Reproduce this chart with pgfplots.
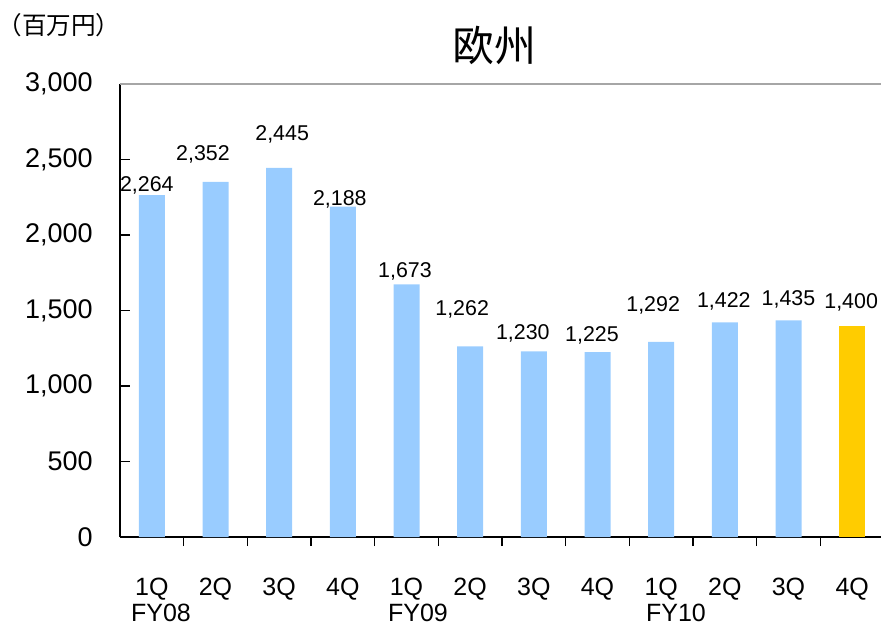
\documentclass[border=0pt]{standalone}
\usepackage{pgfplots}
\pgfplotsset{compat=1.18}
\usepackage{pgfplotstable}
\usepackage{fontspec}
\setmainfont{Liberation Sans}
\newfontfamily\cjk{Noto Sans CJK JP}
\definecolor{barblue}{HTML}{99CCFF}
\definecolor{bargold}{HTML}{FFCC00}
\pgfplotstableread{
x y dx dy
0 2264 -2.5 5
1 2352 -6.25 13.5
2 2445 1.5 16.5
3 2188 -1.5 3.5
4 1673 -0.75 6.5
5 1262 -4 18.5
6 1230 -5.5 9
7 1225 -2.75 8.5
8 1292 -4 18.5
9 1422 -0.5 10.5
10 1435 0 10.5
}\bluedata
\pgfplotstableread{
x y dx dy
11 1400 -0.5 11.5
}\golddata
\begin{document}
\begin{tikzpicture}
\path[use as bounding box] (-60pt,-44pt) rectangle (380.5pt,268.5pt);
\begin{axis}[
  at={(0,0)}, anchor=south west,
  scale only axis,
  width=382pt, height=226.5pt,
  xmin=-0.5, xmax=11.5,
  ymin=0, ymax=3000,
  axis x line*=bottom, axis y line*=left,
  axis line style={black, line width=0.8pt},
  tick align=inside,
  major tick length=5pt, minor tick length=4.5pt,
  tick style={black, line width=0.7pt},
  xtick={0,...,11},
  xticklabels={1Q,2Q,3Q,4Q,1Q,2Q,3Q,4Q,1Q,2Q,3Q,4Q},
  minor xtick={0.5,1.5,...,10.5},
  every major x tick/.append style={draw=none},
  ytick={0,500,...,3000},
  /pgf/number format/assume math mode=true,
  /pgf/number format/1000 sep={,},
  yticklabel style={font=\fontsize{13.5}{15}\selectfont, anchor=east, inner sep=0pt, xshift=-13.5pt},
  xticklabel style={font=\fontsize{12.5}{15}\selectfont, anchor=center, inner sep=0pt, yshift=-21pt},
  ybar, bar width=13pt, bar shift=0pt,
  nodes near coords,
  visualization depends on={\thisrow{dx} \as \dx},
  visualization depends on={\thisrow{dy} \as \dy},
  nodes near coords style={font=\fontsize{10.7}{12}\selectfont, anchor=center, inner sep=0pt, xshift=\dx pt, yshift=\dy pt, text=black},
  clip=false,
]
\addplot[fill=barblue, draw=none] table[x=x, y=y] {\bluedata};
\addplot[fill=bargold, draw=none] table[x=x, y=y] {\golddata};
\draw[gray!70, line width=0.8pt] (rel axis cs:0,1) -- (rel axis cs:1,1);
\end{axis}
\node[font=\cjk\fontsize{21}{24}\selectfont] at (187pt,246pt) {欧州};
\node[font=\cjk\fontsize{12.3}{14}\selectfont] at (-30.5pt,256pt) {（百万円）};
\node[font=\fontsize{12.5}{15}\selectfont] at (20.5pt,-38pt) {FY08};
\node[font=\fontsize{12.5}{15}\selectfont] at (149pt,-38pt) {FY09};
\node[font=\fontsize{12.5}{15}\selectfont] at (278pt,-38pt) {FY10};
\end{tikzpicture}
\end{document}
